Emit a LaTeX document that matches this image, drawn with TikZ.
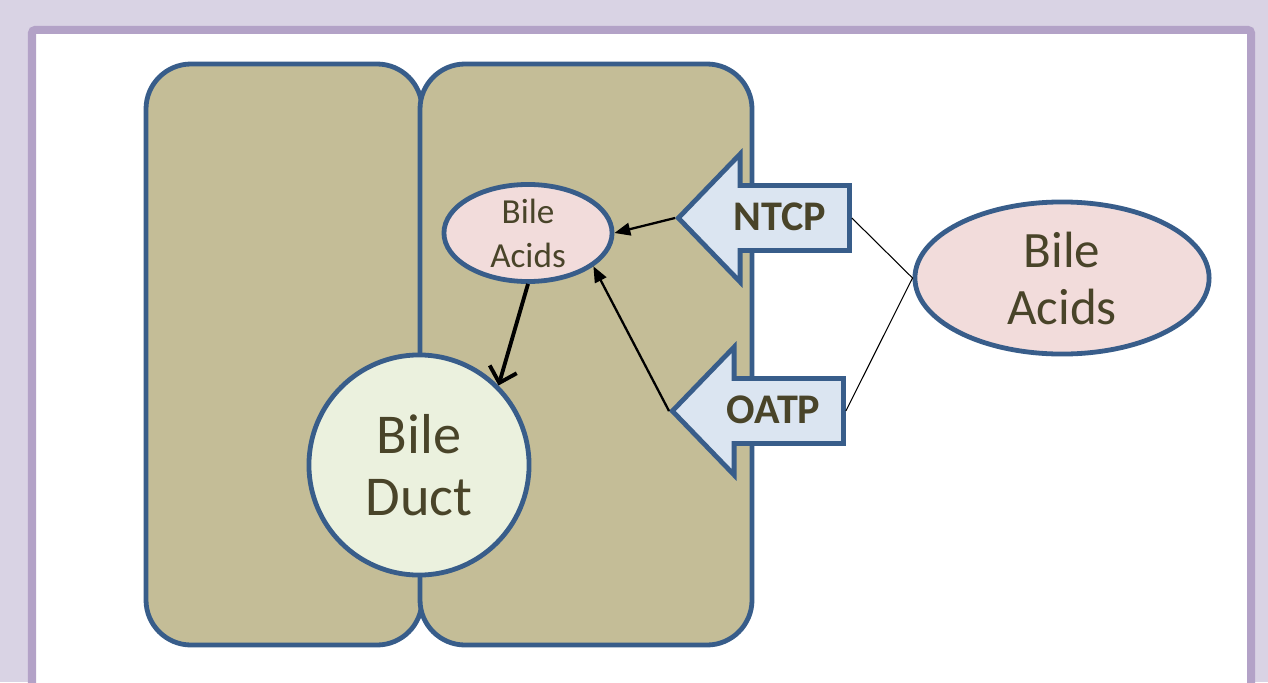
\documentclass[tikz,border=0pt]{standalone}
\usepackage{fontspec}
\setmainfont{Carlito}
\usetikzlibrary{shapes.geometric,shapes.arrows,arrows.meta}
\definecolor{hinter}{HTML}{D9D3E4}
\definecolor{rahmen}{HTML}{B3A2C7}
\definecolor{blau}{HTML}{385D8A}
\definecolor{zelle}{HTML}{C4BD97}
\definecolor{rosa}{HTML}{F2DCDB}
\definecolor{gruen}{HTML}{EBF1DE}
\definecolor{hellblau}{HTML}{DBE5F1}
\definecolor{schrift}{HTML}{494429}
\begin{document}
\begin{tikzpicture}[x=0.01cm,y=-0.01cm,
    cell/.style={draw=blau,fill=zelle,line width=0.048cm,rounded corners=0.45cm},
    acid/.style={ellipse,draw=blau,fill=rosa,line width=0.048cm,align=center,text=schrift,inner sep=0pt},
    carrier/.style={single arrow,shape border rotate=180,draw=blau,fill=hellblau,line width=0.048cm,
      single arrow tip angle=92,single arrow head extend=0.315cm,minimum height=1.71cm,
      text height=0.25cm,text depth=0cm,inner ysep=0.175cm,
      font=\fontsize{12}{14}\selectfont\bfseries,text=schrift},
    pfeil/.style={-{Triangle[length=4.5pt,width=3.6pt]},line width=0.65pt},
    fluss/.style={-{Straight Barb[length=4pt,width=8pt]},line width=1.1pt}]
  % Hintergrund und Rahmen
  \useasboundingbox (0,0) rectangle (1268,682);
  \clip (0,0) rectangle (1268,682);
  \fill[hinter] (0,0) rectangle (1268,682);
  \draw[rahmen,fill=white,line width=0.08cm,rounded corners=0.03cm] (32,30) rectangle (1251,730);
  % Zellen
  \draw[cell] (146,64) rectangle (422,645);
  \draw[cell] (420,64) rectangle (752,645);
  % Gallengang und Gallensaeuren
  \node[circle,draw=blau,fill=gruen,line width=0.048cm,minimum size=2.2cm,inner sep=0pt,
    align=center,text=schrift,font=\fontsize{16}{17.6}\selectfont] (duct) at (419,465) {Bile\\Duct};
  \node[acid,minimum width=1.68cm,minimum height=0.9cm,font=\fontsize{10}{12.5}\selectfont]
    (inner) at (528,233) {Bile\\Acids};
  \node[acid,minimum width=2.94cm,minimum height=1.52cm,font=\fontsize{14.5}{16.2}\selectfont]
    (outer) at (1062,278) {Bile\\Acids};
  % Transporter
  \node[carrier,anchor=tip] (ntcp) at (675,218) {NTCP};
  \node[carrier,anchor=tip] (oatp) at (669,411) {OATP};
  % Verbindungen
  \draw[pfeil] (ntcp.tip) -- (inner.east);
  \draw[pfeil] (oatp.tip) -- (inner.-27);
  \draw[fluss] (inner.south) -- (duct.45);
  \draw[line width=0.3pt] (ntcp.tail) -- (outer.west) -- (oatp.tail);
\end{tikzpicture}
\end{document}
